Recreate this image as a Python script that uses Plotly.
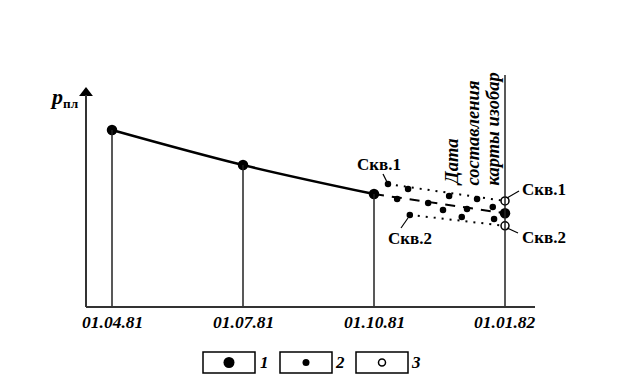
import plotly.graph_objects as go

# ---- data (x: months since 01.04.81, y: reservoir pressure, arbitrary units) ----
tick_vals = [0, 3, 6, 9]
tick_text = ["01.04.81", "01.07.81", "01.10.81", "01.01.82"]

# type 1: big dots (measured averages)
big_x = [0, 3, 6]
big_p = [7.63, 6.12, 4.87]

# type 2: small dots (individual well measurements)
small_x = [6.32, 6.53, 6.78, 6.82, 7.24, 7.58, 7.72, 8.01, 8.13, 8.36, 8.72, 8.75]
small_p = [5.30, 4.66, 5.09, 3.97, 4.48, 4.18, 4.78, 3.88, 4.22, 4.66, 4.31, 3.79]

# dashed extrapolation of average pressure
dash_x = [6, 9]
dash_p = [4.87, 4.04]

# dotted extrapolations for wells
well1_x = [6.32, 9]
well1_p = [5.30, 4.57]
well2_x = [6.82, 9]
well2_p = [3.97, 3.50]

# type 3: open circles (extrapolated values at map date)
open_x = [9, 9]
open_p = [4.57, 3.50]

map_date_x = 9
p_top = 10.0

map_label_lines = ["Дата", "составления", "карты изобар"]

# ---- pixel mapping helpers (page body has an 8px margin) ----
OFF = 8
W, H = 623 - OFF, 388 - OFF
PX0, PXS = 112.0, 393.0 / 9.0      # reference pixel of x=0, pixels per month
PY0, PYS = 307.0, 23.2             # reference pixel of p=0, pixels per unit


def dx(px):
    return (px - PX0) / PXS


def dy(py):
    return (PY0 - py) / PYS


def qx(px):
    return (px - OFF) / W


def qy(py):
    return 1 - (py - OFF) / H


fig = go.Figure()

# solid curve
fig.add_trace(go.Scatter(x=big_x, y=big_p, mode="lines",
                         line=dict(color="black", width=2.5, shape="spline", smoothing=1.0),
                         hoverinfo="skip"))
# dashed
fig.add_trace(go.Scatter(x=dash_x, y=dash_p, mode="lines",
                         line=dict(color="black", width=2, dash="10px,8px"), hoverinfo="skip"))
# dotted wells
for xs, ys in [(well1_x, well1_p), (well2_x, well2_p)]:
    fig.add_trace(go.Scatter(x=xs, y=ys, mode="lines",
                             line=dict(color="black", width=2, dash="2px,6px"), hoverinfo="skip"))

# verticals under big points and map date line
shapes = []
for x, p in zip(big_x, big_p):
    shapes.append(dict(type="line", xref="x", yref="y", x0=x, x1=x, y0=0, y1=p,
                       line=dict(color="#222", width=1.5)))
shapes.append(dict(type="line", xref="x", yref="y", x0=map_date_x, x1=map_date_x,
                   y0=0, y1=p_top, line=dict(color="#222", width=1.5)))
# axes
shapes.append(dict(type="line", xref="x", yref="y", x0=dx(86), x1=dx(535), y0=0, y1=0,
                   line=dict(color="#333", width=2)))
shapes.append(dict(type="line", xref="x", yref="y", x0=dx(86), x1=dx(86), y0=0, y1=dy(95),
                   line=dict(color="#333", width=2)))
# leader lines
for (a, b, c, d) in [(383, 174, 387, 182), (401, 228, 408, 218),
                     (507, 198, 519, 191), (507, 228, 518, 233)]:
    shapes.append(dict(type="line", xref="x", yref="y", x0=dx(a), y0=dy(b), x1=dx(c), y1=dy(d),
                       line=dict(color="black", width=1.2)))

# legend boxes (paper coords)
legend_boxes = [(203, 255), (280, 332), (356, 408)]
for (a, b) in legend_boxes:
    shapes.append(dict(type="rect", xref="paper", yref="paper",
                       x0=qx(a), x1=qx(b), y0=qy(373), y1=qy(352),
                       line=dict(color="black", width=1.5)))

# markers
fig.add_trace(go.Scatter(x=big_x + [dash_x[-1]], y=big_p + [dash_p[-1]], mode="markers",
                         marker=dict(color="black", size=10.5), hoverinfo="skip"))
fig.add_trace(go.Scatter(x=small_x, y=small_p, mode="markers",
                         marker=dict(color="black", size=6.5), hoverinfo="skip"))
fig.add_trace(go.Scatter(x=open_x, y=open_p, mode="markers",
                         marker=dict(color="white", size=8, line=dict(color="black", width=1.5)),
                         hoverinfo="skip"))
# y axis arrow head
fig.add_trace(go.Scatter(x=[dx(86)], y=[dy(93)], mode="markers",
                         marker=dict(symbol="triangle-up", color="black", size=12), hoverinfo="skip"))

# legend markers
fig.add_trace(go.Scatter(x=[dx(229)], y=[dy(362.5)], mode="markers",
                         marker=dict(color="black", size=11), hoverinfo="skip"))
fig.add_trace(go.Scatter(x=[dx(306)], y=[dy(362.5)], mode="markers",
                         marker=dict(color="black", size=7), hoverinfo="skip"))
fig.add_trace(go.Scatter(x=[dx(382)], y=[dy(362.5)], mode="markers",
                         marker=dict(color="white", size=7, line=dict(color="black", width=1.5)),
                         hoverinfo="skip"))

SERIF = "Liberation Serif"
ann = []
for v, t in zip(tick_vals, tick_text):
    ann.append(dict(x=v, y=dy(321.5), xref="x", yref="y", text="<b><i>" + t + "</i></b>",
                    xanchor="center", yanchor="middle",
                    showarrow=False, font=dict(family=SERIF, size=17.5, color="black")))
ann.append(dict(x=dx(81), y=dy(97), xref="x", yref="y", xanchor="right", yanchor="middle",
                text="<b><i><span style='font-size:22px'>p</span></i></b><sub><b>пл</b></sub>",
                showarrow=False, font=dict(family=SERIF, size=19, color="black")))
for (xx, yy, t) in [(379, 164, "Скв.1"), (410, 238, "Скв.2"), (544, 189, "Скв.1"), (544, 237, "Скв.2")]:
    ann.append(dict(x=dx(xx), y=dy(yy), xref="x", yref="y", text="<b>" + t + "</b>",
                    xanchor="center", yanchor="middle",
                    showarrow=False, font=dict(family=SERIF, size=17, color="black")))
for xx, line in zip([452, 472, 492], map_label_lines):
    ann.append(dict(x=dx(xx), y=dy(188), xref="x", yref="y", yanchor="bottom", xanchor="center",
                    text="<b><i>" + line + "</i></b>", textangle=-90, showarrow=False,
                    font=dict(family=SERIF, size=18.5, color="black")))
for (xx, t) in [(264, "1"), (340, "2"), (416, "3")]:
    ann.append(dict(x=qx(xx), y=qy(362.5), xref="paper", yref="paper",
                    xanchor="center", yanchor="middle",
                    text="<b><i>" + t + "</i></b>", showarrow=False,
                    font=dict(family=SERIF, size=17, color="black")))

fig.update_layout(
    width=W, height=H, margin=dict(l=0, r=0, t=0, b=0),
    paper_bgcolor="white", plot_bgcolor="white", showlegend=False,
    xaxis=dict(range=[dx(OFF), dx(OFF + W)], visible=False, fixedrange=True),
    yaxis=dict(range=[dy(OFF + H), dy(OFF)], visible=False, fixedrange=True),
    shapes=shapes, annotations=ann,
)

fig.write_html("out.html")
